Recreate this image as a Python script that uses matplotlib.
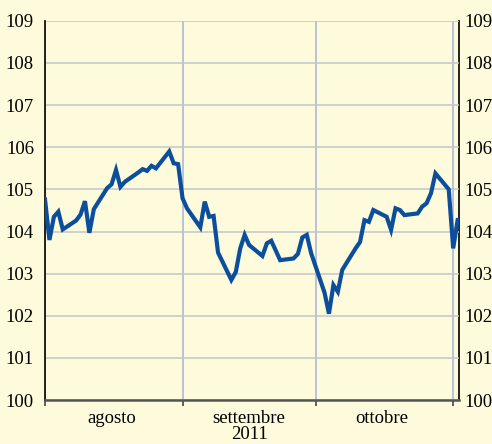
import matplotlib
matplotlib.use("Agg")
import matplotlib.pyplot as plt
import pandas as pd

# daily values (trading days, Aug-Nov 2011)
dates = [
    "2011-08-01", "2011-08-02", "2011-08-03", "2011-08-04", "2011-08-05",
    "2011-08-08", "2011-08-09", "2011-08-10", "2011-08-11", "2011-08-12",
    "2011-08-15", "2011-08-16", "2011-08-17", "2011-08-18", "2011-08-19",
    "2011-08-22", "2011-08-23", "2011-08-24", "2011-08-25", "2011-08-26",
    "2011-08-29", "2011-08-30", "2011-08-31",
    "2011-09-01", "2011-09-02", "2011-09-05", "2011-09-06", "2011-09-07",
    "2011-09-08", "2011-09-09", "2011-09-12", "2011-09-13", "2011-09-14",
    "2011-09-15", "2011-09-16", "2011-09-19", "2011-09-20", "2011-09-21",
    "2011-09-22", "2011-09-23", "2011-09-26", "2011-09-27", "2011-09-28",
    "2011-09-29", "2011-09-30",
    "2011-10-03", "2011-10-04", "2011-10-05", "2011-10-06", "2011-10-07",
    "2011-10-10", "2011-10-11", "2011-10-12", "2011-10-13", "2011-10-14",
    "2011-10-17", "2011-10-18", "2011-10-19", "2011-10-20", "2011-10-21",
    "2011-10-24", "2011-10-25", "2011-10-26", "2011-10-27", "2011-10-28",
    "2011-10-31", "2011-11-01", "2011-11-02",
]
values = [
    104.76, 103.80, 104.35, 104.47, 104.05,
    104.26, 104.40, 104.72, 103.97, 104.53,
    105.03, 105.12, 105.46, 105.06, 105.18,
    105.40, 105.48, 105.44, 105.56, 105.50,
    105.90, 105.62, 105.60,
    104.79, 104.55, 104.10, 104.71, 104.35,
    104.37, 103.50, 102.85, 103.04, 103.60,
    103.92, 103.68, 103.42, 103.72, 103.78,
    103.55, 103.32, 103.36, 103.47, 103.86,
    103.92, 103.48,
    102.55, 102.05, 102.73, 102.57, 103.09,
    103.60, 103.75, 104.27, 104.23, 104.51,
    104.35, 104.04, 104.55, 104.51, 104.39,
    104.43, 104.59, 104.67, 104.91, 105.38,
    105.00, 103.60, 104.27,
]

month_starts = ["2011-08-01", "2011-09-01", "2011-10-01", "2011-11-01"]
month_mids = ["2011-08-16", "2011-09-16", "2011-10-16"]
month_labels = ["agosto", "settembre\n2011", "ottobre"]
y_ticks = list(range(100, 110))

bg = "#fefadc"
plt.rcParams["font.family"] = ["Liberation Serif", "DejaVu Serif"]

x = pd.to_datetime(dates)
fig = plt.figure(figsize=(4.92, 4.44), dpi=100, facecolor=bg)
ax = fig.add_axes([0.0915, 0.099, 0.842, 0.854], facecolor=bg)

ax.plot(x, values, color="#0b4f9c", lw=3.0, solid_joinstyle="miter", zorder=3)

ax.set_ylim(100, 109)
ax.set_yticks(y_ticks)
ax.set_xlim(pd.Timestamp("2011-08-01"), pd.Timestamp("2011-11-02 09:00"))

ax.set_xticks(pd.to_datetime(month_starts))
ax.set_xticklabels([])
ax.set_xticks(pd.to_datetime(month_mids), minor=True)
ax.set_xticklabels(month_labels, minor=True, linespacing=0.92)
ax.tick_params(axis="x", which="major", length=4, width=1.2, color="#444444", direction="out")
ax.tick_params(axis="x", which="minor", length=0, pad=7, labelsize=13.5)
ax.tick_params(axis="y", length=0, pad=8, labelsize=13.5)

# right-hand copy of the value axis
sec = ax.secondary_yaxis("right")
sec.set_yticks(y_ticks)
sec.tick_params(axis="y", length=0, pad=4, labelsize=13.5)
sec.spines["right"].set_color("#111111")
sec.spines["right"].set_linewidth(1.3)

ax.grid(axis="y", color="#c4c6cc", lw=1.1, zorder=1)
ax.grid(axis="x", which="major", color="#aab3d6", lw=1.1, zorder=1)

ax.spines["top"].set_visible(False)
ax.spines["right"].set_visible(False)
ax.spines["left"].set_color("#111111")
ax.spines["left"].set_linewidth(1.3)
ax.spines["bottom"].set_color("#555555")
ax.spines["bottom"].set_linewidth(1.8)

fig.savefig("out.png", dpi=100, facecolor=bg)
